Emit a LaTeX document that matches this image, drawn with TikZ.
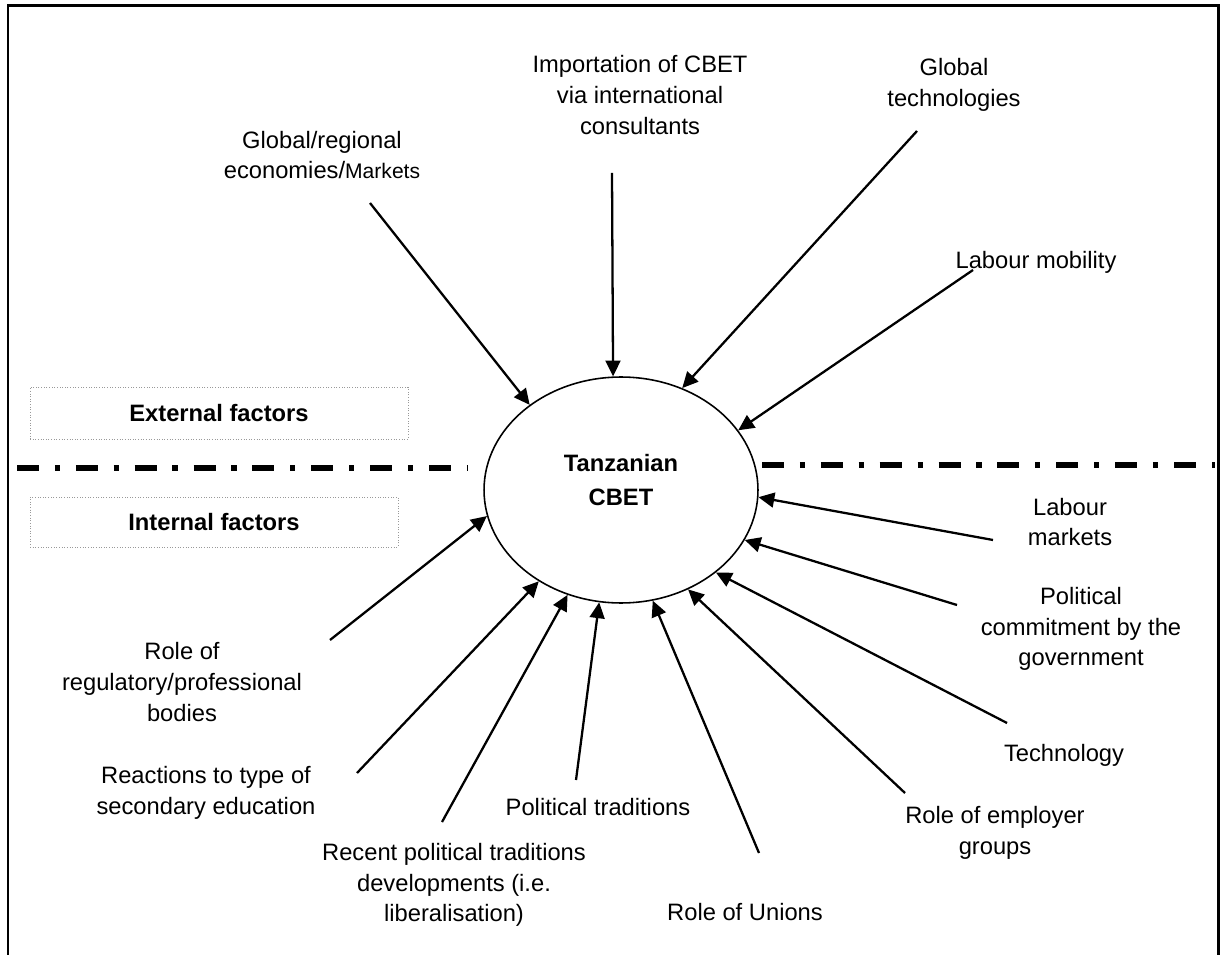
\documentclass[tikz,border=0pt]{standalone}
\usepackage{fontspec}
\setmainfont{Liberation Sans}
\usepackage{tikz}
\usetikzlibrary{shapes,arrows.meta,positioning}
\tikzstyle{factor} = [align=center, inner sep=0pt, font=\fontsize{13.5}{17.5}\selectfont]
\tikzstyle{sidebox} = [draw=gray!80, densely dotted, line width=0.5pt, minimum width=7.56cm, minimum height=1.04cm, font=\fontsize{13.5}{16}\selectfont\bfseries]
\tikzstyle{hub} = [ellipse, draw, line width=0.9pt, fill=white, minimum width=5.48cm, minimum height=4.52cm, inner sep=0pt]
\tikzstyle{arrow} = [-{Triangle[length=9pt,width=8.5pt]}, line width=1.3pt]
\tikzstyle{divider} = [line width=2.9pt, dash pattern=on 12.5pt off 9pt on 3pt off 9pt]

\begin{document}
\begin{tikzpicture}[x=0.02cm, y=-0.02cm]
    \useasboundingbox (0,0) rectangle (1226,955);
    % Frame, open at the bottom
    \draw[line width=1.7pt] (8,955) -- (8,6) -- (1218,6) -- (1218,955);

    % Divider
    \draw[divider] (17,468) -- (467,468);
    \draw[divider] (762,465) -- (1215,465);

    % Centre
    \node[hub] (cbet) at (621,490) {};
    \node[factor, font=\fontsize{13.5}{19}\selectfont\bfseries] (cbettext) at (621,480) {Tanzanian\\CBET};

    % Side boxes
    \node[sidebox] (external) at (219,413) {External factors};
    \node[sidebox, minimum width=7.36cm, minimum height=1cm] (internal) at (214,522) {Internal factors};

    % External factors
    \node[factor] (markets) at (322,155) {Global/regional\\economies/{\fontsize{12}{17.5}\selectfont Markets}};
    \node[factor] (import) at (640,95) {Importation of CBET\\via international\\consultants};
    \node[factor] (globaltech) at (954,85) {Global\\technologies};
    \node[factor] (labmob) at (1036,262) {Labour mobility};

    % Internal factors
    \node[factor] (labmkt) at (1070,522) {Labour\\markets};
    \node[factor] (polcom) at (1081,629) {Political\\commitment by the\\government};
    \node[factor] (tech) at (1064,755) {Technology};
    \node[factor] (employer) at (995,833) {Role of employer\\groups};
    \node[factor] (unions) at (745,912) {Role of Unions};
    \node[factor] (poltrad) at (598,807) {Political traditions};
    \node[factor] (recent) at (454,885) {Recent political traditions\\developments (i.e.\\liberalisation)};
    \node[factor] (reactions) at (206,793) {Reactions to type of\\secondary education};
    \node[factor] (regulatory) at (182,682) {Role of\\regulatory/professional\\bodies};

    % Arrow tails
    \coordinate (markets-t) at (370,203);
    \coordinate (import-t) at (612,173);
    \coordinate (globaltech-t) at (917,131);
    \coordinate (labmob-t) at (973,270);
    \coordinate (labmkt-t) at (993,540);
    \coordinate (polcom-t) at (957,605);
    \coordinate (tech-t) at (1007,723);
    \coordinate (employer-t) at (905,793);
    \coordinate (unions-t) at (759,853);
    \coordinate (poltrad-t) at (576,780);
    \coordinate (recent-t) at (442,822);
    \coordinate (reactions-t) at (357,773);
    \coordinate (regulatory-t) at (330,640);

    % Arrows
    \draw[arrow] (markets-t) -- (cbet.137);
    \draw[arrow] (import-t) -- (cbet.94.5);
    \draw[arrow] (globaltech-t) -- (cbet.59);
    \draw[arrow] (labmob-t) -- (cbet.27.5);
    \draw[arrow] (labmkt-t) -- (cbet.-3);
    \draw[arrow] (polcom-t) -- (cbet.-22);
    \draw[arrow] (tech-t) -- (cbet.-41);
    \draw[arrow] (employer-t) -- (cbet.-56);
    \draw[arrow] (unions-t) -- (cbet.-74);
    \draw[arrow] (poltrad-t) -- (cbet.-101);
    \draw[arrow] (recent-t) -- (cbet.-117);
    \draw[arrow] (reactions-t) -- (cbet.-132);
    \draw[arrow] (regulatory-t) -- (cbet.-169);
\end{tikzpicture}
\end{document}
